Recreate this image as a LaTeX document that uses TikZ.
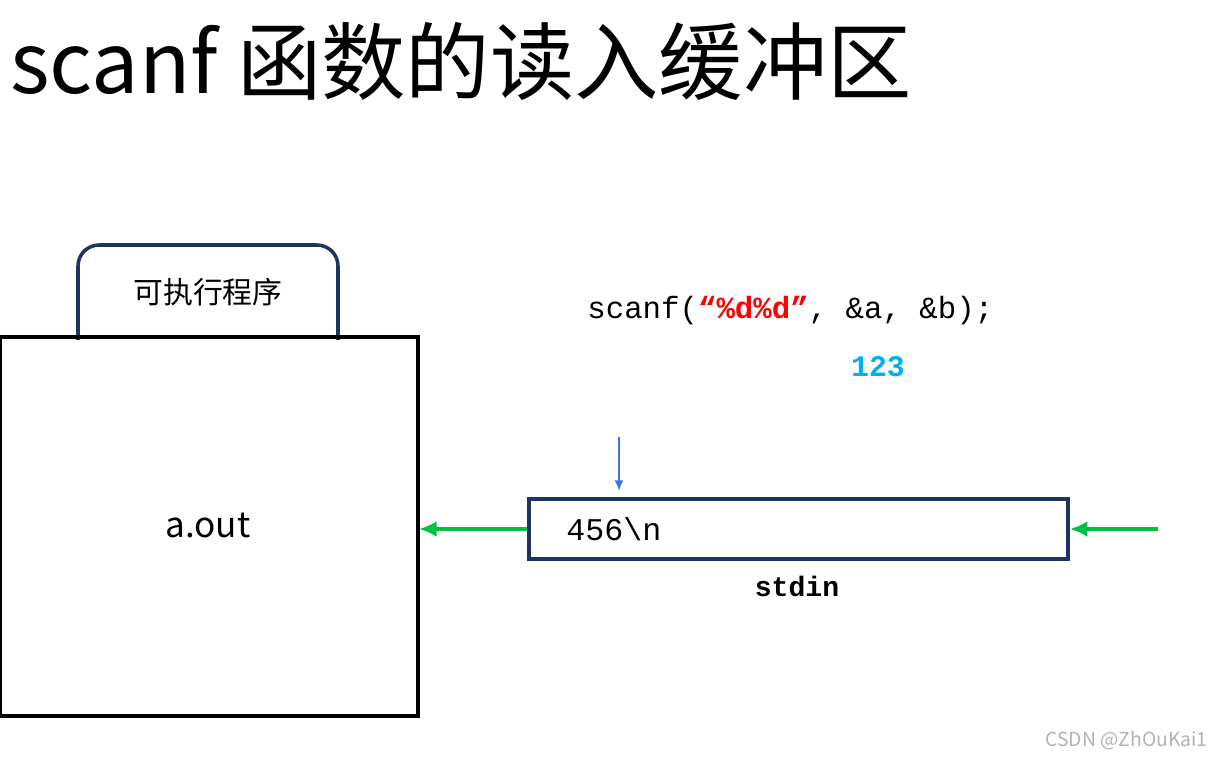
\documentclass[tikz,border=0pt]{standalone}
\usepackage{fontspec}
\setmainfont{Noto Sans CJK SC}
\newfontfamily\cjk{Noto Sans CJK SC}
\newfontfamily\codefont{Liberation Mono}
\usetikzlibrary{arrows.meta}
\definecolor{navy}{RGB}{31,50,96}
\definecolor{arrowgreen}{RGB}{0,192,64}
\definecolor{arrowblue}{RGB}{50,120,230}
\definecolor{numcyan}{RGB}{0,176,240}
\tikzset{
  frame/.style={draw=navy, line width=2pt},
  feed/.style={draw=arrowgreen, line width=2pt, -{Latex[length=10pt,width=9pt]}}
}
\begin{document}
\begin{tikzpicture}[x=0.02cm,y=-0.02cm]
\useasboundingbox (0,0) rectangle (1212,759);

% title
\node[anchor=west, inner sep=0] (title) at (10,62) {\cjk\fontsize{48}{48}\selectfont scanf 函数的读入缓冲区};

% program label and box
\draw[frame, rounded corners=12pt] (78,340) -- (78,245) -- (338,245) -- (338,340);
\node (label) at (208,292) {\cjk\fontsize{17}{17}\selectfont 可执行程序};
\draw[black, line width=2pt] (0,337) rectangle (418,716);
\node (prog) at (208,525) {\fontsize{20}{20}\selectfont a.out};
\coordinate (progR) at (419,529);

% input buffer
\node[frame, minimum width=539*0.02cm, minimum height=60*0.02cm, inner sep=0] (buf) at (798.5,529) {};
\node[anchor=west, inner sep=0] (content) at (566,529) {\codefont\fontsize{18}{18}\selectfont 456\textbackslash n};
\node (stdin) at (797,586) {\codefont\fontsize{16}{16}\selectfont\bfseries stdin};

% arrows
\coordinate (src) at (1158,529);
\draw[feed] (buf.west) -- (progR);
\draw[feed] (src) -- (buf.east);
\coordinate (ptrA) at (619,437);
\coordinate (ptrB) at (619,491);
\draw[arrowblue, line width=1pt, -{Latex[length=6pt,width=5pt]}] (ptrA) -- (ptrB);

% scanf call
\node[anchor=west, inner sep=0] (call) at (587,311) {\codefont\fontsize{17.5}{17.5}\selectfont scanf(\textcolor{red}{\bfseries\char"201C\%d\%d\char"201D}, \&a, \&b);};
\node (input) at (878,367) {\codefont\fontsize{17}{17}\selectfont\bfseries\textcolor{numcyan}{123}};

% watermark
\node[anchor=east, text=gray!60, inner sep=0] (mark) at (1208,740) {\cjk\fontsize{11}{11}\selectfont CSDN @ZhOuKai1};
\end{tikzpicture}
\end{document}
